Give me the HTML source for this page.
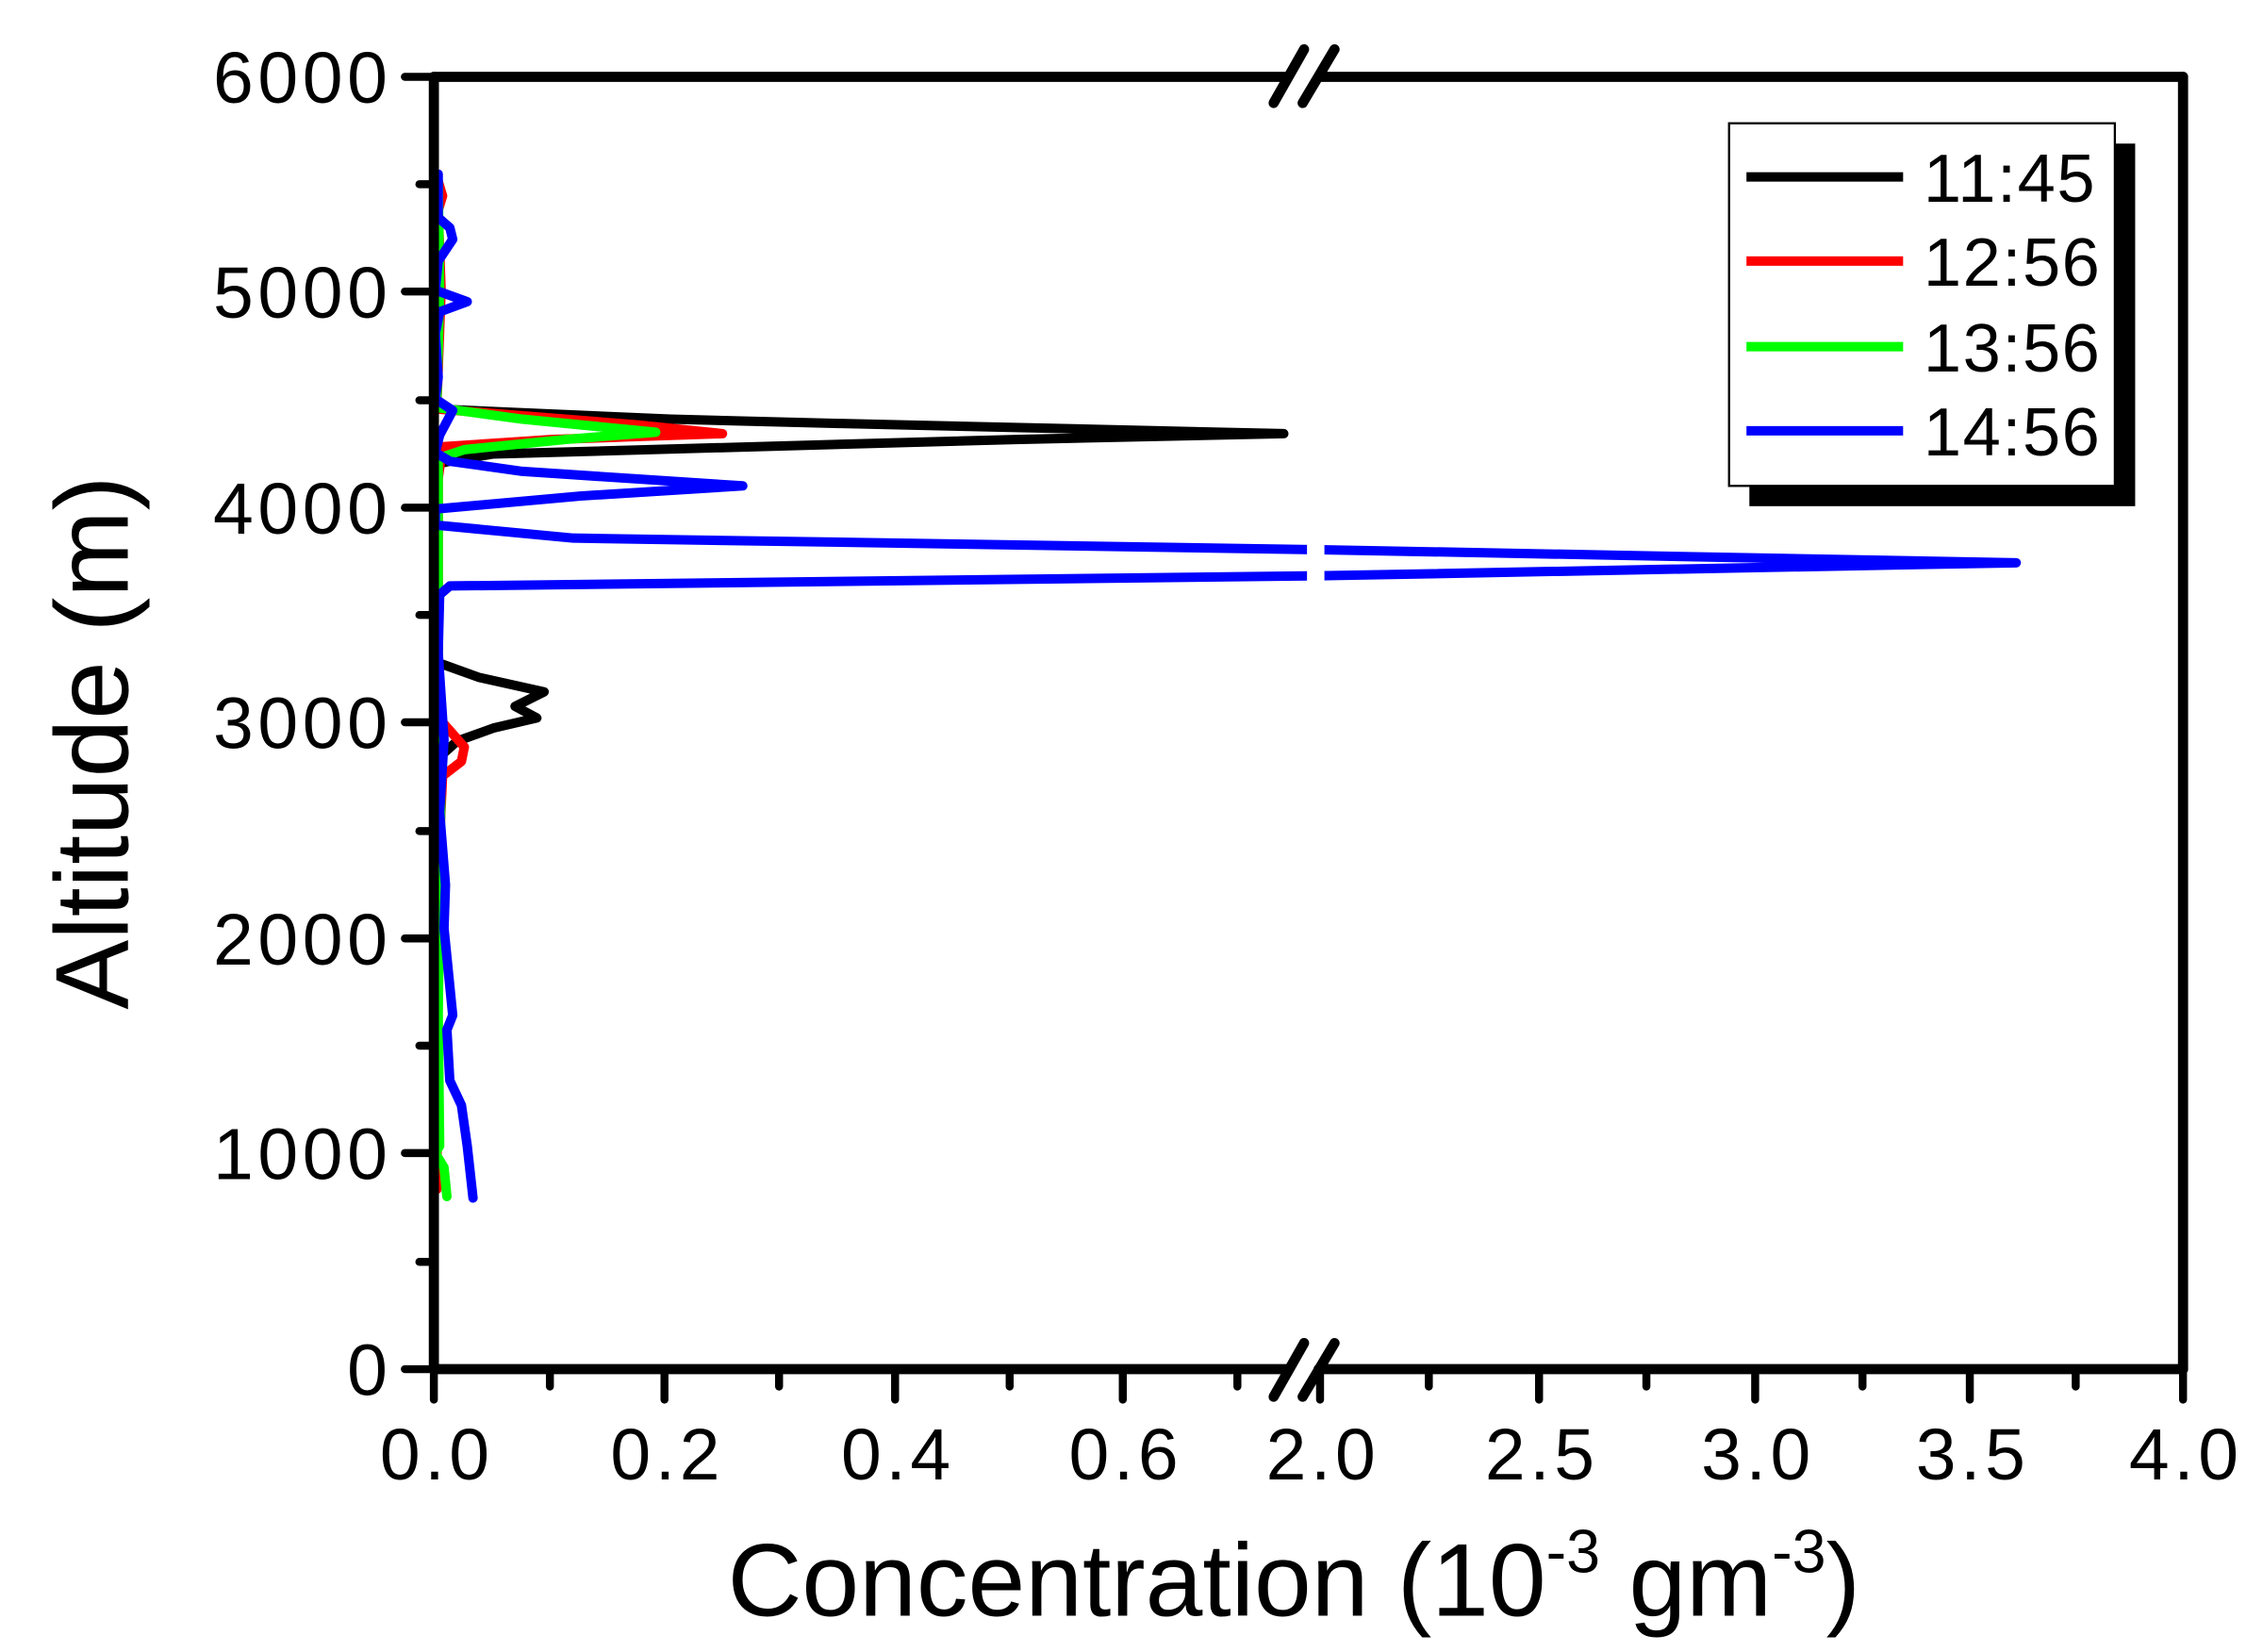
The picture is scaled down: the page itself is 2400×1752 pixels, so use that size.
<!DOCTYPE html>
<html><head><meta charset="utf-8"><style>html,body{margin:0;padding:0;background:#fff}svg{display:block}</style></head>
<body>
<svg width="2400" height="1752" viewBox="0 0 1560 1139" xmlns="http://www.w3.org/2000/svg" font-family="Liberation Sans, sans-serif">
<rect width="1560" height="1139" fill="#fff"/>
<g fill="none" stroke-width="6.5" stroke-linejoin="round" stroke-linecap="round">
<polyline stroke="#000" points="301,125 302,200 301,282 462,289 580,292 885,299 700,303 340,313 310,318 301,320 302,460 305,458 330,467 375,477 355,487 370,495 340,502 315,511 305,520 302,560 301,820"/>
<polyline stroke="#f00" points="302,125 305,135 302,145 304,200 301,282 440,293 498,299 380,303 305,308 302,330 302,495 305,498 320,515 318,525 305,535 302,600 301,820"/>
<polyline stroke="#0f0" points="302,125 303,200 301,281 360,289 452,298 390,303 320,310 302,316 302,500 304,530 302,700 303,790 300,795 306,805 308,825"/>
<polyline stroke="#00f" points="302,120 302,150 310,157 312,165 302,180 300,200 322,208 303,215 300,230 302,260 300,275 312,283 303,300 300,312 310,318 360,325 512,335 400,342 300,351 300,362 395,371 910,379 1390,388 910,397 310,404 303,410 302,450 306,510 303,560 307,610 306,640 310,680 312,700 308,710 310,745 318,762 322,790 326,826"/>
</g>
<rect x="901" y="366" width="12" height="42" fill="#fff"/>
<g stroke="#000" stroke-width="7" stroke-linecap="round">
<line x1="299" y1="53" x2="888" y2="53"/><line x1="909" y1="53" x2="1505" y2="53"/>
<line x1="299" y1="944" x2="888" y2="944"/><line x1="909" y1="944" x2="1505" y2="944"/>
<line x1="299" y1="53" x2="299" y2="944"/><line x1="1505" y1="53" x2="1505" y2="944"/>
<line x1="878" y1="71" x2="899" y2="34"/><line x1="898" y1="71" x2="920" y2="34"/>
<line x1="878" y1="963" x2="899" y2="926"/><line x1="898" y1="963" x2="920" y2="926"/>
</g>
<g stroke="#000" stroke-width="5.5" stroke-linecap="round">
<line x1="279" y1="53" x2="299" y2="53"/><line x1="279" y1="201" x2="299" y2="201"/><line x1="279" y1="350" x2="299" y2="350"/><line x1="279" y1="498" x2="299" y2="498"/><line x1="279" y1="647" x2="299" y2="647"/><line x1="279" y1="795" x2="299" y2="795"/><line x1="279" y1="944" x2="299" y2="944"/>
<line x1="289" y1="127" x2="299" y2="127"/><line x1="289" y1="276" x2="299" y2="276"/><line x1="289" y1="424" x2="299" y2="424"/><line x1="289" y1="573" x2="299" y2="573"/><line x1="289" y1="721" x2="299" y2="721"/><line x1="289" y1="870" x2="299" y2="870"/>
<line x1="299" y1="944" x2="299" y2="965"/><line x1="458" y1="944" x2="458" y2="965"/><line x1="617" y1="944" x2="617" y2="965"/><line x1="774" y1="944" x2="774" y2="965"/>
<line x1="379" y1="944" x2="379" y2="956"/><line x1="537" y1="944" x2="537" y2="956"/><line x1="696" y1="944" x2="696" y2="956"/><line x1="853" y1="944" x2="853" y2="956"/>
<line x1="910" y1="944" x2="910" y2="965"/><line x1="1061" y1="944" x2="1061" y2="965"/><line x1="1210" y1="944" x2="1210" y2="965"/><line x1="1358" y1="944" x2="1358" y2="965"/><line x1="1505" y1="944" x2="1505" y2="965"/>
<line x1="985" y1="944" x2="985" y2="956"/><line x1="1135" y1="944" x2="1135" y2="956"/><line x1="1284" y1="944" x2="1284" y2="956"/><line x1="1431" y1="944" x2="1431" y2="956"/>
</g>
<g font-size="50" letter-spacing="3" text-anchor="end" fill="#000">
<text x="270" y="71">6000</text><text x="270" y="219">5000</text><text x="270" y="368">4000</text><text x="270" y="516">3000</text><text x="270" y="665">2000</text><text x="270" y="813">1000</text><text x="270" y="962">0</text>
</g>
<g font-size="50" letter-spacing="3" text-anchor="middle" fill="#000">
<text x="301" y="1020">0.0</text><text x="460" y="1020">0.2</text><text x="619" y="1020">0.4</text><text x="776" y="1020">0.6</text>
<text x="912" y="1020">2.0</text><text x="1063" y="1020">2.5</text><text x="1212" y="1020">3.0</text><text x="1360" y="1020">3.5</text><text x="1507" y="1020">4.0</text>
</g>
<text x="892" y="1114" font-size="71" text-anchor="middle">Concentration (10<tspan font-size="42" dy="-30">-3</tspan><tspan dy="30"> gm</tspan><tspan font-size="42" dy="-30">-3</tspan><tspan dy="30">)</tspan></text>
<text transform="translate(88,512) rotate(-90)" font-size="72" text-anchor="middle">Altitude (m)</text>
<rect x="1206" y="99" width="266" height="250" fill="#000"/>
<rect x="1192" y="85" width="266" height="250" fill="#fff" stroke="#000" stroke-width="1.5"/>
<g stroke-width="6.5">
<line x1="1204" y1="122" x2="1312" y2="122" stroke="#000"/>
<line x1="1204" y1="180" x2="1312" y2="180" stroke="#f00"/>
<line x1="1204" y1="239" x2="1312" y2="239" stroke="#0f0"/>
<line x1="1204" y1="297" x2="1312" y2="297" stroke="#00f"/>
</g>
<g font-size="47" letter-spacing="1" fill="#000">
<text x="1326" y="139">11:45</text><text x="1326" y="197">12:56</text><text x="1326" y="256">13:56</text><text x="1326" y="314">14:56</text>
</g>
</svg>
</body></html>
